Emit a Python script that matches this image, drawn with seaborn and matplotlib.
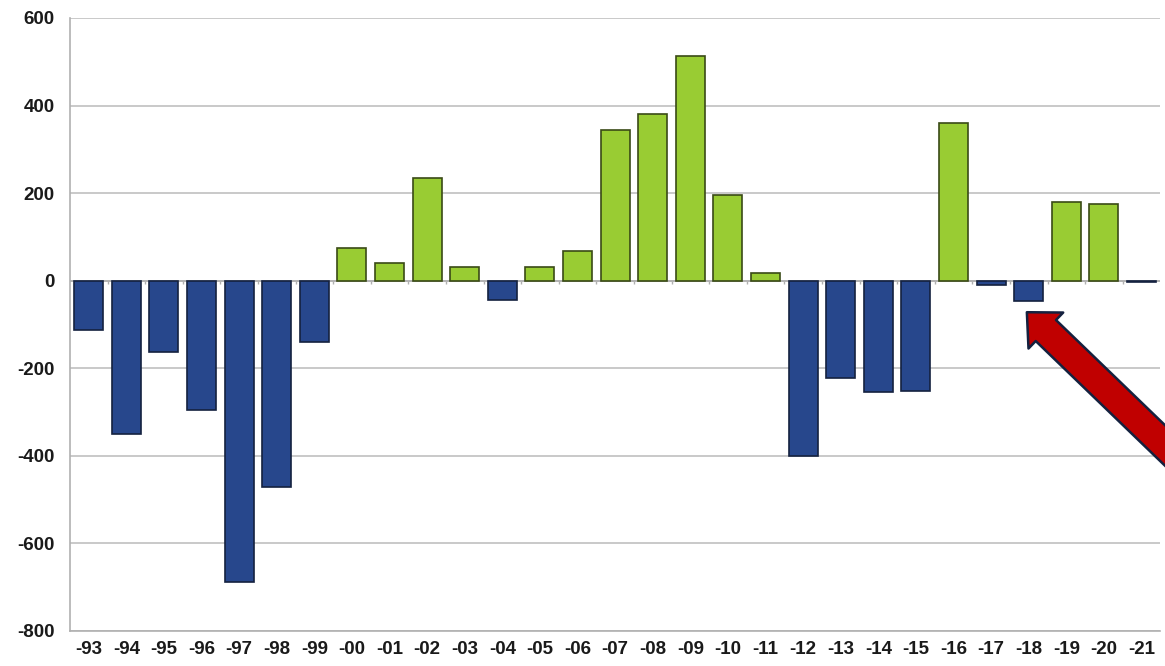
import pandas as pd
import matplotlib
matplotlib.use('Agg')
import matplotlib.pyplot as plt
import seaborn as sns

years = ['-93', '-94', '-95', '-96', '-97', '-98', '-99', '-00', '-01', '-02',
         '-03', '-04', '-05', '-06', '-07', '-08', '-09', '-10', '-11', '-12',
         '-13', '-14', '-15', '-16', '-17', '-18', '-19', '-20', '-21']
values = [-112, -351, -164, -296, -689, -472, -139, 75, 41, 235,
          32, -43, 32, 68, 344, 381, 513, 196, 18, -401,
          -223, -255, -253, 360, -9, -46, 180, 176, -4]
highlight = '-18'

df = pd.DataFrame({'year': years, 'value': values})
df['sign'] = ['pos' if v > 0 else 'neg' for v in df['value']]

sns.set_style('white')
plt.rcParams['font.family'] = ['Liberation Sans', 'DejaVu Sans']
plt.rcParams['axes.unicode_minus'] = False

fig = plt.figure(figsize=(11.65, 6.66), dpi=100)
ax = fig.add_axes([0.060, 0.0526, 0.936, 0.9204])

pal = {'pos': '#99cc33', 'neg': '#27478c'}
sns.barplot(data=df, x='year', y='value', hue='sign', palette=pal, saturation=1,
            dodge=False, width=0.77, legend=False, ax=ax, zorder=3)

edge = {'pos': '#3a4a16', 'neg': '#14213f'}
for bar in ax.patches:
    h = bar.get_height()
    if h == 0:
        continue
    bar.set_edgecolor(edge['pos'] if h > 0 else edge['neg'])
    bar.set_linewidth(1.2)

ax.set_ylim(-800, 600)
ax.set_xlim(-0.5, len(years) - 0.5)
ax.set_yticks(range(-800, 601, 200))
ax.yaxis.grid(True, color='#c0c0c0', linewidth=1.2, zorder=0)
ax.set_axisbelow(True)
ax.axhline(0, color='#b0b0b0', linewidth=1.2, zorder=2)
# little category ticks on the zero line
ax.vlines([i + 0.5 for i in range(len(years) - 1)], -8, 0, color='#b0b0b0', linewidth=1, zorder=2)

for s in ['top', 'right']:
    ax.spines[s].set_visible(False)
ax.spines['left'].set_color('#b0b0b0')
ax.spines['bottom'].set_color('#b0b0b0')
ax.spines['left'].set_linewidth(1.2)
ax.spines['bottom'].set_linewidth(1.2)

ax.set_xlabel('')
ax.set_ylabel('')
ax.tick_params(axis='both', length=0, labelsize=13.5, colors='#1a1a1a')
ax.tick_params(axis='y', pad=11)
ax.tick_params(axis='x', pad=7)
for lab in ax.get_xticklabels() + ax.get_yticklabels():
    lab.set_fontweight('bold')

# red arrow pointing at the highlighted bar
i = years.index(highlight)
ax.annotate('', xy=(i - 0.05, values[i] - 26), xycoords='data',
            xytext=(1290, 100), textcoords='figure pixels',
            arrowprops=dict(arrowstyle='simple,head_width=1.8,head_length=0.95,tail_width=1.05',
                            mutation_scale=20, fc='#c00000', ec='#14213f', lw=1.8,
                            shrinkA=0, shrinkB=0),
            annotation_clip=False, zorder=5)

fig.savefig('out.png', dpi=100)
